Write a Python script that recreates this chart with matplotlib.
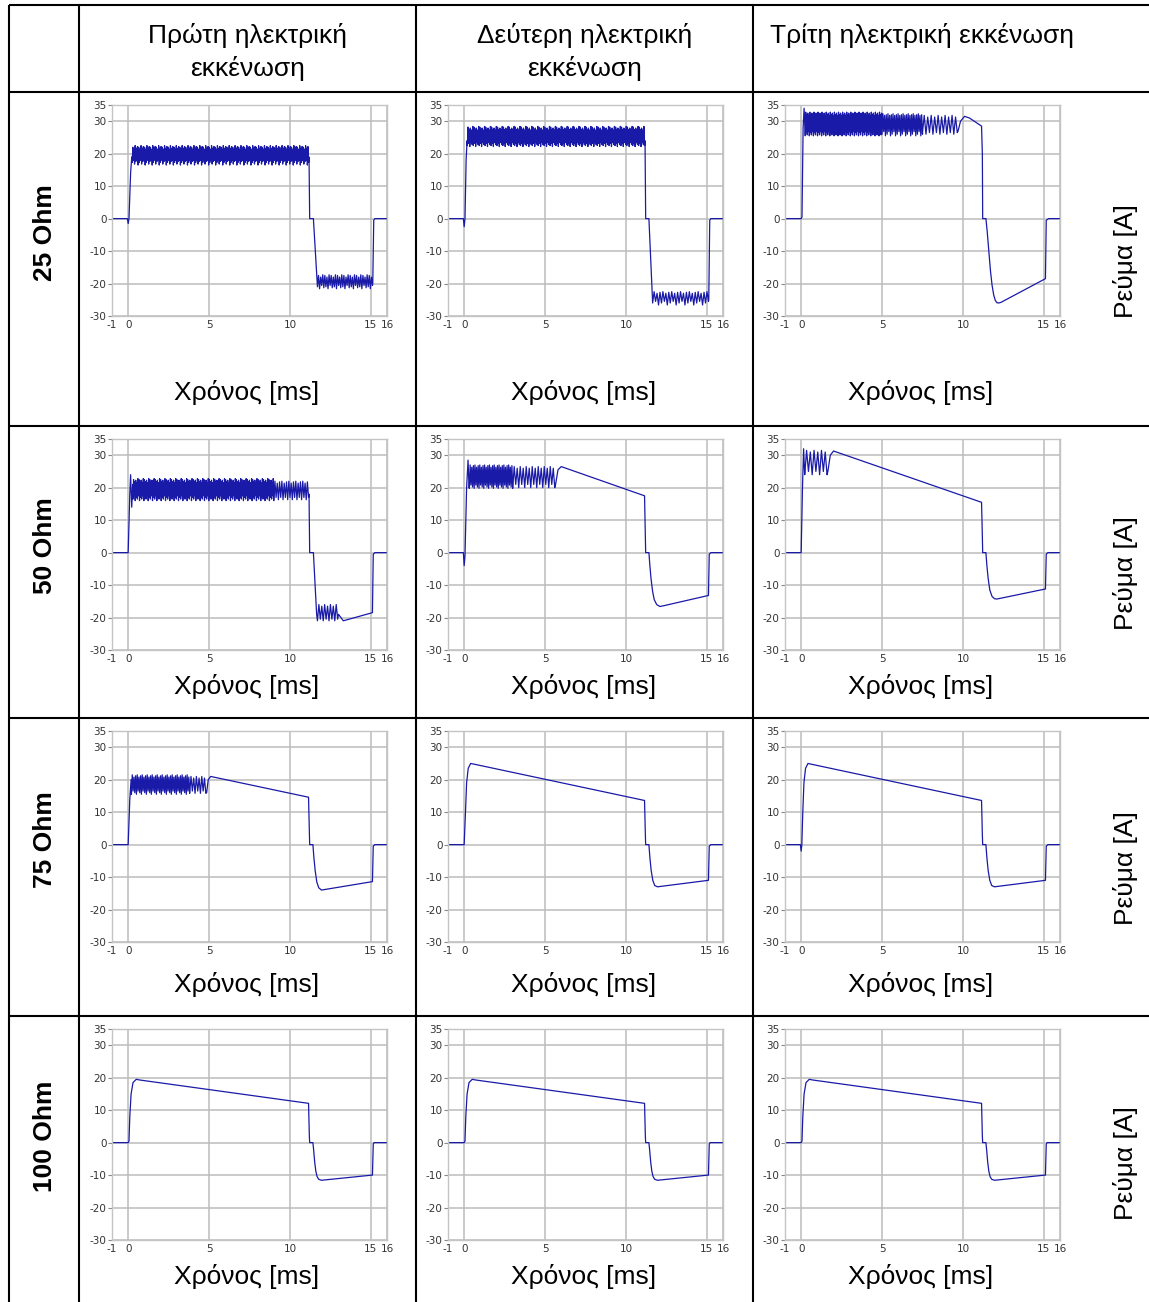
import numpy as np
import matplotlib
matplotlib.use("Agg")
import matplotlib.pyplot as plt

W, H = 1149, 1302

COL_TITLES = [["Πρώτη ηλεκτρική", "εκκένωση"],
              ["Δεύτερη ηλεκτρική", "εκκένωση"],
              ["Τρίτη ηλεκτρική εκκένωση"]]
ROW_TITLES = ["25 Ohm", "50 Ohm", "75 Ohm", "100 Ohm"]
XLABEL = "Χρόνος [ms]"
YLABEL = "Ρεύμα [A]"
X_TICKS = [-1, 0, 5, 10, 15, 16]
Y_TICKS = [35, 30, 20, 10, 0, -10, -20, -30]

# Skeleton points (t [ms], I [A]) and oscillation bands
# (t0, t1, peak values read, trough values read, cycles)
R25_D1_PTS = [(-1, 0), (-0.05, 0), (0.0, -1.5), (0.05, 0), (0.15, 14), (0.22, 19),
              (11.18, 19), (11.22, 0), (11.45, 0), (11.68, -19),
              (15.12, -20), (15.18, -0.5), (15.25, 0), (16, 0)]
R25_D1_BANDS = [(0.25, 11.15, (22.0, 21.4, 22.5, 21.7, 22.2), (17.3, 18.0, 16.8, 17.6, 17.9, 16.5), 150),
                (11.7, 15.1, (-17.5, -18.0, -17.3), (-21.0, -21.6, -20.6, -21.3), 26)]

R25_D2_PTS = [(-1, 0), (-0.05, 0), (0.0, -2.5), (0.05, 0), (0.12, 18), (0.18, 24),
              (11.18, 24), (11.22, 0), (11.42, 0), (11.62, -23),
              (15.12, -25), (15.18, -0.5), (15.25, 0), (16, 0)]
R25_D2_BANDS = [(0.2, 11.15, (28.2, 27.5, 27.9, 27.3, 28.4), (22.5, 23.2, 22.2, 23.4, 22.8), 150),
                (11.65, 15.1, (-22.5, -23.0, -22.7), (-26.0, -25.5, -26.6), 19)]

R25_D3_PTS = [(-1, 0), (0.0, 0), (0.05, 0.5), (0.12, 28), (0.18, 34), (0.24, 28),
              (9.7, 27), (9.85, 30), (10.1, 31.5), (10.4, 31), (11.15, 28.5),
              (11.2, 20), (11.22, 0), (11.42, 0), (11.5, -4), (11.6, -10),
              (11.7, -16), (11.8, -20.5), (11.9, -23.5), (12.0, -25.2),
              (12.1, -25.9), (12.2, -26), (12.35, -25.8),
              (15.1, -18.5), (15.15, -0.5), (15.3, 0), (16, 0)]
R25_D3_BANDS = [(0.25, 5.0, (32.8, 32.0, 32.5, 31.8), (25.5, 26.5, 25.8, 26.8), 75),
                (5.0, 7.5, (32.3, 31.8, 32.0), (26.0, 26.8, 25.5), 24),
                (7.5, 9.65, (31.8, 31.3), (26.5, 26.0), 10)]

R50_D1_PTS = [(-1, 0), (0.0, 0), (0.1, 18), (0.15, 24), (0.22, 14), (0.28, 21),
              (11.18, 18), (11.22, 0), (11.45, 0), (11.65, -19),
              (13.0, -19), (13.3, -21), (15.1, -18.5), (15.15, -0.5), (15.25, 0), (16, 0)]
R50_D1_BANDS = [(0.3, 9.0, (22.5, 21.8, 22.3, 21.5, 22.8), (16.5, 17.5, 16.0, 17.0), 130),
                (9.0, 11.15, (22.0, 21.4, 21.8), (16.3, 17.0), 15),
                (11.7, 12.95, (-16.0, -16.5), (-21.0, -20.5), 7)]

R50_D2_PTS = [(-1, 0), (-0.05, 0), (0.0, -4), (0.05, -1), (0.15, 20), (0.24, 28.5),
              (0.3, 20), (5.65, 21), (5.8, 25.5), (6.0, 26.5), (11.15, 17.5),
              (11.2, 5), (11.22, 0), (11.42, 0), (11.48, -4), (11.55, -8),
              (11.65, -12), (11.75, -14.5), (11.9, -16), (12.1, -16.6),
              (12.3, -16.4), (15.1, -13.2), (15.15, -0.5), (15.25, 0), (16, 0)]
R50_D2_BANDS = [(0.32, 3.0, (27.0, 26.3, 26.8), (19.8, 20.8, 20.2), 27),
                (3.0, 5.6, (26.5, 26.0), (20.0, 21.0), 14)]

R50_D3_PTS = [(-1, 0), (0.0, 0), (0.08, 20), (0.15, 32), (0.2, 26),
              (1.65, 25), (1.8, 30), (2.0, 31.3), (11.15, 15.5),
              (11.2, 5), (11.22, 0), (11.42, 0), (11.48, -4), (11.56, -8),
              (11.66, -11.5), (11.8, -13.5), (11.95, -14.2), (12.1, -14.3),
              (15.1, -11.2), (15.15, -0.5), (15.25, 0), (16, 0)]
R50_D3_BANDS = [(0.22, 1.6, (31.5, 31.0), (24.0, 25.0), 6)]

R75_D1_PTS = [(-1, 0), (0.0, 0), (0.1, 14), (0.18, 20),
              (4.85, 16), (4.95, 20), (5.1, 21), (11.15, 14.6),
              (11.2, 4), (11.22, 0), (11.42, 0), (11.48, -4), (11.56, -8),
              (11.66, -11.5), (11.78, -13.3), (11.95, -14), (15.1, -11.4),
              (15.15, -0.5), (15.25, 0), (16, 0)]
R75_D1_BANDS = [(0.2, 3.8, (21.5, 20.8, 21.2), (15.5, 16.5, 16.0), 35),
                (3.8, 4.8, (21.0, 20.5), (15.8, 16.5), 6)]

R75_D2_PTS = [(-1, 0), (0.0, 0), (0.08, 10), (0.15, 19), (0.25, 23.5), (0.4, 25),
              (0.6, 24.8), (11.15, 13.6), (11.2, 3), (11.22, 0), (11.42, 0),
              (11.48, -4), (11.56, -8), (11.66, -11), (11.78, -12.6),
              (11.95, -13), (15.1, -11), (15.15, -0.5), (15.25, 0), (16, 0)]
R75_D2_BANDS = []

R75_D3_PTS = [(-1, 0), (-0.05, 0), (0.0, -2), (0.04, 0), (0.1, 10), (0.17, 19),
              (0.27, 23.5), (0.42, 25), (0.6, 24.8), (11.15, 13.6), (11.2, 3),
              (11.22, 0), (11.42, 0), (11.48, -4), (11.56, -8), (11.66, -11),
              (11.78, -12.6), (11.95, -13), (15.1, -11), (15.15, -0.5),
              (15.25, 0), (16, 0)]
R75_D3_BANDS = []

R100_D1_PTS = [(-1, 0), (0.0, 0), (0.05, 0.5), (0.1, 8), (0.18, 15), (0.3, 18.5),
               (0.5, 19.5), (0.7, 19.3), (11.15, 12.1), (11.2, 2), (11.22, 0),
               (11.42, 0), (11.47, -2.5), (11.53, -6), (11.6, -8.8), (11.68, -10.5),
               (11.78, -11.3), (11.95, -11.6), (15.1, -10), (15.15, -0.5),
               (15.2, 0), (16, 0)]
R100_D1_BANDS = []
R100_D2_PTS = list(R100_D1_PTS)
R100_D2_BANDS = []
R100_D3_PTS = list(R100_D1_PTS)
R100_D3_BANDS = []

PANELS = [[(R25_D1_PTS, R25_D1_BANDS), (R25_D2_PTS, R25_D2_BANDS), (R25_D3_PTS, R25_D3_BANDS)],
          [(R50_D1_PTS, R50_D1_BANDS), (R50_D2_PTS, R50_D2_BANDS), (R50_D3_PTS, R50_D3_BANDS)],
          [(R75_D1_PTS, R75_D1_BANDS), (R75_D2_PTS, R75_D2_BANDS), (R75_D3_PTS, R75_D3_BANDS)],
          [(R100_D1_PTS, R100_D1_BANDS), (R100_D2_PTS, R100_D2_BANDS), (R100_D3_PTS, R100_D3_BANDS)]]


def trace(pts, bands):
    out = [(a, b) for a, b in pts
           if not any(t0 <= a <= t1 for t0, t1, *_ in bands)]
    for t0, t1, his, los, n in bands:
        ts = np.linspace(t0, t1, 2 * n + 1)
        for k, tt in enumerate(ts):
            j = k // 2
            out.append((tt, his[j % len(his)] if k % 2 else los[j % len(los)]))
    out.sort(key=lambda p: p[0])
    arr = np.array(out)
    return arr[:, 0], arr[:, 1]


fig = plt.figure(figsize=(W / 100, H / 100), dpi=100)
fig.patch.set_facecolor("white")

bg = fig.add_axes([0, 0, 1, 1])
bg.set_xlim(0, W)
bg.set_ylim(H, 0)
bg.axis("off")

BIG = ["Liberation Sans", "DejaVu Sans"]
FS = 19
LW_T = 1.5

# table lines
for xv in [9, 79, 416, 753]:
    bg.plot([xv, xv], [5, H], color="black", lw=LW_T, solid_capstyle="butt")
for yv in [5, 92, 426, 718, 1016]:
    bg.plot([9, W], [yv, yv], color="black", lw=LW_T, solid_capstyle="butt")

col_centers = [247.5, 584.5, 921.5]
for cx, lines in zip(col_centers, COL_TITLES):
    for i, ln in enumerate(lines):
        bg.text(cx, 43 + 33 * i, ln, ha="center", va="baseline", fontsize=FS, family=BIG)

row_centers = [233, 546, 840, 1136]
ylab_centers = [261, 573, 868, 1163]
xlab_base = [400, 694, 992, 1284]
for r in range(4):
    bg.text(45, row_centers[r], ROW_TITLES[r], rotation=90, ha="center", va="center",
            fontsize=FS, fontweight="bold", family=BIG)
    bg.text(1125, ylab_centers[r], YLABEL, rotation=90, ha="center", va="center",
            fontsize=FS, family=BIG)
    for c in range(3):
        bg.text(col_centers[c] - 0.5, xlab_base[r], XLABEL, ha="center", va="baseline",
                fontsize=FS, family=BIG)

row_tops = [105, 439, 731, 1029]
col_lefts = [112, 448, 785]
AW, AH = 275, 211

for r in range(4):
    for c in range(3):
        ax = fig.add_axes([col_lefts[c] / W, 1 - (row_tops[r] + AH) / H, AW / W, AH / H])
        t, y = trace(*PANELS[r][c])
        ax.plot(t, y, color="#1a1aa8", lw=0.9)
        ax.set_xlim(-1, 16)
        ax.set_ylim(-30, 35)
        ax.set_xticks(X_TICKS)
        ax.set_yticks(Y_TICKS)
        ax.set_xticklabels([str(v) for v in X_TICKS])
        ax.set_yticklabels([str(v) for v in Y_TICKS])
        ax.grid(True, color="#bcbcbc", lw=1.1)
        ax.set_axisbelow(True)
        for s in ax.spines.values():
            s.set_color("#c4c4c4")
            s.set_linewidth(1.0)
        ax.tick_params(axis="y", length=3, width=0.8, color="#888888", pad=1,
                       labelsize=7.5, labelcolor="#333333")
        ax.tick_params(axis="x", length=0, pad=3, labelsize=7.5, labelcolor="#333333")

fig.savefig("out.png", dpi=100, facecolor="white")
